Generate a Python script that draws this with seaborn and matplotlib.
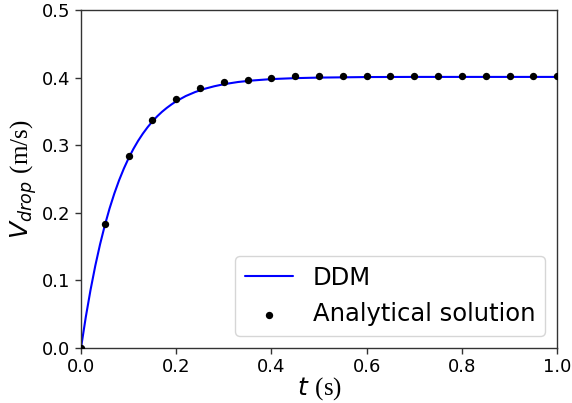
import matplotlib
matplotlib.use("Agg")
import matplotlib.pyplot as plt
import seaborn as sns
import pandas as pd

# DDM curve
ddm_t = [0.00, 0.01, 0.02, 0.03, 0.04, 0.05, 0.06, 0.07, 0.08, 0.09, 0.10,
         0.11, 0.12, 0.13, 0.14, 0.15, 0.16, 0.17, 0.18, 0.19, 0.20,
         0.22, 0.24, 0.26, 0.28, 0.30, 0.33, 0.36, 0.40, 0.45, 0.50,
         0.60, 0.70, 0.80, 0.90, 1.00]
ddm_v = [0.0000, 0.0455, 0.0858, 0.1216, 0.1533, 0.1814, 0.2064, 0.2285, 0.2481, 0.2654, 0.2808,
         0.2944, 0.3065, 0.3172, 0.3267, 0.3352, 0.3427, 0.3493, 0.3551, 0.3603, 0.3650,
         0.3727, 0.3787, 0.3835, 0.3872, 0.3902, 0.3935, 0.3957, 0.3978, 0.3992, 0.4000,
         0.4008, 0.4010, 0.4010, 0.4010, 0.4010]

# Analytical solution points
ana_t = [0.00, 0.05, 0.10, 0.15, 0.20, 0.25, 0.30, 0.35, 0.40, 0.45, 0.50,
         0.55, 0.60, 0.65, 0.70, 0.75, 0.80, 0.85, 0.90, 0.95, 1.00]
ana_v = [0.000, 0.183, 0.284, 0.338, 0.368, 0.384, 0.393, 0.397, 0.400, 0.402, 0.403,
         0.403, 0.403, 0.403, 0.403, 0.403, 0.403, 0.403, 0.403, 0.403, 0.403]

sns.set_style("ticks")
plt.rcParams['font.family'] = ['DejaVu Sans']
plt.rcParams['mathtext.fontset'] = 'custom'
plt.rcParams['mathtext.rm'] = 'Liberation Serif'
plt.rcParams['mathtext.it'] = 'DejaVu Sans:italic'
plt.rcParams['mathtext.bf'] = 'DejaVu Sans:bold'

df_ddm = pd.DataFrame({"t": ddm_t, "v": ddm_v})
df_ana = pd.DataFrame({"t": ana_t, "v": ana_v})

fig = plt.figure(figsize=(5.72, 4.03), dpi=100)
ax = fig.add_axes([0.1416, 0.1365, 0.8324, 0.8387])

sns.lineplot(data=df_ddm, x="t", y="v", ax=ax, color="blue", linewidth=1.5,
             label="DDM", estimator=None)
sns.scatterplot(data=df_ana, x="t", y="v", ax=ax, color="black", s=28,
                edgecolor="black", linewidth=0, label="Analytical solution", zorder=3)

ax.set_xlim(0, 1.0)
ax.set_ylim(0, 0.5)
ax.set_xticks([0.0, 0.2, 0.4, 0.6, 0.8, 1.0])
ax.set_yticks([0.0, 0.1, 0.2, 0.3, 0.4, 0.5])
ax.tick_params(labelsize=13, length=4, width=1, direction="out",
               colors="#333333", labelcolor="black")
for sp in ax.spines.values():
    sp.set_visible(True)
    sp.set_color("#333333")
    sp.set_linewidth(1.0)

ax.set_xlabel(r"$t$ $\mathrm{(s)}$", fontsize=18, labelpad=-1, color="black")
ax.set_ylabel(r"$V_{drop}$ $\mathrm{(m/s)}$", fontsize=18, labelpad=2, color="black")

leg = ax.legend(loc="lower right", fontsize=17.5, frameon=True, borderaxespad=0.5,
                handlelength=2.0)
for txt in leg.get_texts():
    txt.set_color("black")

fig.savefig("out.png", dpi=100)
